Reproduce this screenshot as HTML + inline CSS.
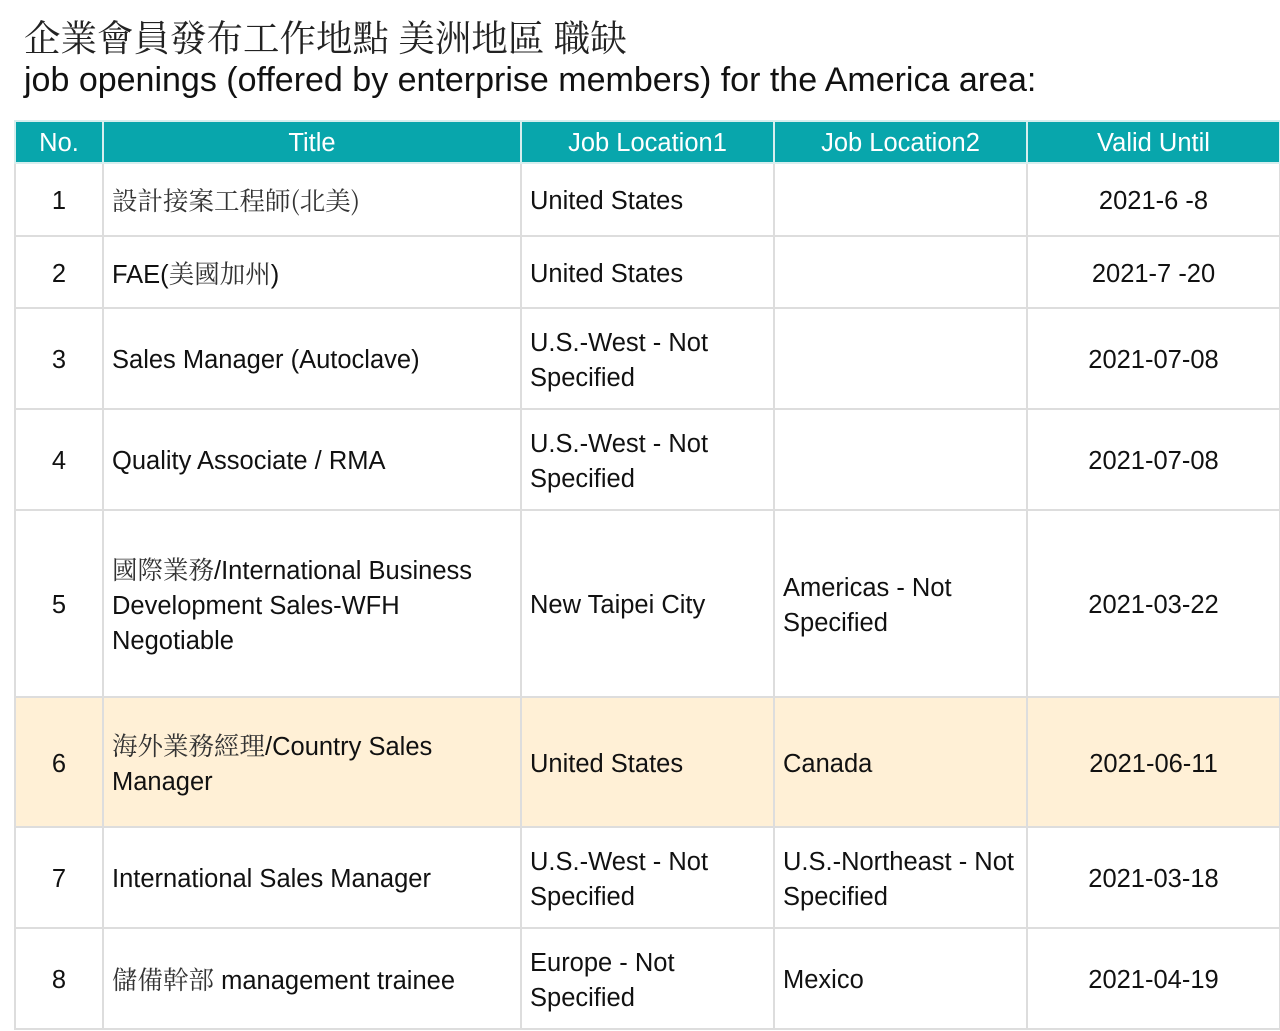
<!DOCTYPE html>
<html><head><meta charset="utf-8"><style>
body{margin:0;width:1280px;height:1031px;background:#fff;overflow:hidden;font-family:"Liberation Sans","Noto Sans CJK TC",sans-serif;color:#111}
.t1{position:absolute;left:24px;top:12px;font-size:36.5px;font-family:"Noto Serif CJK SC","Noto Sans CJK TC",serif;color:#222;line-height:48px;white-space:nowrap}
.t2{position:absolute;left:24px;top:60px;font-size:34px;line-height:40px;color:#111;white-space:nowrap}
table{position:absolute;left:14px;top:120px;border-collapse:collapse;table-layout:fixed;width:1265px}
td,th{border:2px solid #ddd;font-size:25.5px;line-height:35px;padding:4px 8px 0;vertical-align:middle}
th{background:#08a6ac;color:#fff;font-weight:normal;height:38px;padding-top:2px;border-color:#d6eeee}
td.c{text-align:center}
.cj{font-family:"Noto Serif CJK SC",serif;color:#333}
tr.h td{background:#fff0d6}
</style></head><body>
<div class="t1">企業會員發布工作地點 美洲地區 職缺</div>
<div class="t2">job openings (offered by enterprise members) for the America area:</div>
<table>
<colgroup><col style="width:88px"><col style="width:418px"><col style="width:253px"><col style="width:253px"><col style="width:253px"></colgroup>
<tr><th>No.</th><th>Title</th><th>Job Location1</th><th>Job Location2</th><th>Valid Until</th></tr>
<tr style="height:73px"><td class="c">1</td><td><span class="cj">設計接案工程師(北美)</span></td><td>United States</td><td></td><td class="c">2021-6 -8</td></tr>
<tr style="height:72px"><td class="c">2</td><td>FAE(<span class="cj">美國加州</span>)</td><td>United States</td><td></td><td class="c">2021-7 -20</td></tr>
<tr style="height:101px"><td class="c">3</td><td>Sales Manager (Autoclave)</td><td>U.S.-West - Not<br>Specified</td><td></td><td class="c">2021-07-08</td></tr>
<tr style="height:101px"><td class="c">4</td><td>Quality Associate / RMA</td><td>U.S.-West - Not<br>Specified</td><td></td><td class="c">2021-07-08</td></tr>
<tr style="height:187px"><td class="c">5</td><td><span class="cj">國際業務</span>/International Business<br>Development Sales-WFH<br>Negotiable</td><td>New Taipei City</td><td>Americas - Not<br>Specified</td><td class="c">2021-03-22</td></tr>
<tr class="h" style="height:130px"><td class="c">6</td><td><span class="cj">海外業務經理</span>/Country Sales<br>Manager</td><td>United States</td><td>Canada</td><td class="c">2021-06-11</td></tr>
<tr style="height:101px"><td class="c">7</td><td>International Sales Manager</td><td>U.S.-West - Not<br>Specified</td><td>U.S.-Northeast - Not<br>Specified</td><td class="c">2021-03-18</td></tr>
<tr style="height:101px"><td class="c">8</td><td><span class="cj">儲備幹部</span> management trainee</td><td>Europe - Not<br>Specified</td><td>Mexico</td><td class="c">2021-04-19</td></tr>
</table>
</body></html>
